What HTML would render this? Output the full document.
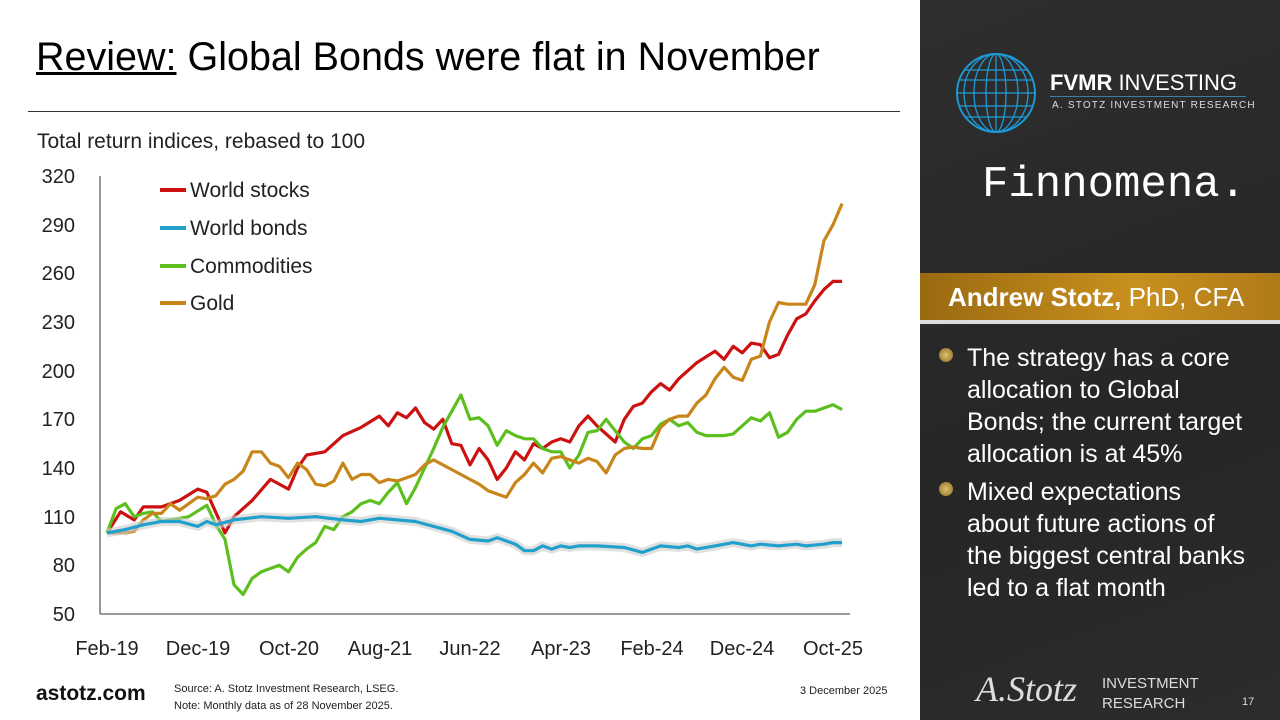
<!DOCTYPE html>
<html><head><meta charset="utf-8"><style>
body{margin:0;width:1280px;height:720px;overflow:hidden;background:#fff;font-family:"Liberation Sans",sans-serif;position:relative}
.rp{position:absolute;left:920px;top:0;width:360px;height:720px;background:linear-gradient(160deg,#2e2e2e,#262626 60%,#2c2c2c)}
</style></head><body>
<div style="position:absolute;left:36px;top:35px;font-size:39.5px;color:#000;white-space:nowrap"><u>Review:</u> Global Bonds were flat in November</div>
<div style="position:absolute;left:28px;top:111px;width:872px;height:1px;background:#333"></div>
<div style="position:absolute;left:37px;top:130px;font-size:21px;color:#222">Total return indices, rebased to 100</div>
<svg width="920" height="720" style="position:absolute;left:0;top:0" id="ch">
<g font-size="20" fill="#222" text-anchor="end" font-family="Liberation Sans">
<text x="75" y="183">320</text><text x="75" y="232">290</text><text x="75" y="280">260</text><text x="75" y="329">230</text><text x="75" y="378">200</text><text x="75" y="426">170</text><text x="75" y="475">140</text><text x="75" y="524">110</text><text x="75" y="572">80</text><text x="75" y="621">50</text>
</g>
<line x1="100" y1="176" x2="100" y2="614" stroke="#333"/>
<line x1="100" y1="614" x2="850" y2="614" stroke="#333"/>
<g font-size="20" fill="#222" text-anchor="middle" font-family="Liberation Sans">
<text x="107" y="655">Feb-19</text><text x="198" y="655">Dec-19</text><text x="289" y="655">Oct-20</text><text x="380" y="655">Aug-21</text><text x="470" y="655">Jun-22</text><text x="561" y="655">Apr-23</text><text x="652" y="655">Feb-24</text><text x="742" y="655">Dec-24</text><text x="833" y="655">Oct-25</text>
</g>
<g font-size="21" fill="#222" font-family="Liberation Sans">
<line x1="160" y1="190" x2="186" y2="190" stroke="#cc1111" stroke-width="4"/><text x="190" y="197">World stocks</text>
<line x1="160" y1="228" x2="186" y2="228" stroke="#22a0cc" stroke-width="4"/><text x="190" y="235">World bonds</text>
<line x1="160" y1="266" x2="186" y2="266" stroke="#5cbf1e" stroke-width="4"/><text x="190" y="273">Commodities</text>
<line x1="160" y1="303" x2="186" y2="303" stroke="#c8851a" stroke-width="4"/><text x="190" y="310">Gold</text>
</g>
<g id="series" fill="none" stroke-width="3.2" stroke-linejoin="round"></g>
</svg>
<div style="position:absolute;left:36px;top:682px;font-size:21px;font-weight:bold;color:#111">astotz.com</div>
<div style="position:absolute;left:174px;top:681px;font-size:11px;color:#222;line-height:17px">Source: A. Stotz Investment Research, LSEG.<br>Note: Monthly data as of 28 November 2025.</div>
<div style="position:absolute;left:800px;top:685px;font-size:11px;color:#222">3 December 2025</div>
<div class="rp">
<svg width="100" height="100" style="position:absolute;left:36px;top:50px"><g fill="none" stroke="#1e9ad6" stroke-width="1.3"><circle cx="40" cy="43" r="39" stroke-width="2"/><ellipse cx="40" cy="43" rx="10" ry="39"/><ellipse cx="40" cy="43" rx="22" ry="39"/><ellipse cx="40" cy="43" rx="32" ry="39"/><line x1="40" y1="4" x2="40" y2="82"/><line x1="3" y1="30" x2="77" y2="30"/><line x1="1" y1="43" x2="79" y2="43"/><line x1="3" y1="56" x2="77" y2="56"/><line x1="8" y1="20" x2="72" y2="20"/><line x1="8" y1="67" x2="72" y2="67"/></g></svg>
<div style="position:absolute;left:130px;top:70px;font-size:22px;color:#fff"><b>FVMR</b> INVESTING</div>
<div style="position:absolute;left:130px;top:96px;width:196px;height:1px;background:#3a7fa5"></div>
<div style="position:absolute;left:132px;top:100px;font-size:10px;letter-spacing:1.2px;color:#ddd">A. STOTZ INVESTMENT RESEARCH</div>
<div style="position:absolute;left:62px;top:160px;font-size:44px;color:#fff;font-family:'Liberation Mono',monospace">Finnomena.</div>
<div style="position:absolute;left:0;top:273px;width:360px;height:47px;background:linear-gradient(90deg,#9a6a10,#c8901e 60%,#b07a18)"></div>
<div style="position:absolute;left:28px;top:282px;font-size:26px;color:#fff"><b>Andrew Stotz,</b> PhD, CFA</div>
<div style="position:absolute;left:0;top:320px;width:360px;height:4px;background:#ddd"></div>
<div style="position:absolute;left:47px;top:342px;width:310px;font-size:25px;line-height:32px;color:#fff;white-space:nowrap">
<div style="position:relative"><span style="position:absolute;left:-28px;top:6px;width:14px;height:14px;border-radius:50%;background:radial-gradient(#e0c070,#8a6a20)"></span>The strategy has a core<br>allocation to Global<br>Bonds; the current target<br>allocation is at 45%</div>
<div style="position:relative;margin-top:6px"><span style="position:absolute;left:-28px;top:6px;width:14px;height:14px;border-radius:50%;background:radial-gradient(#e0c070,#8a6a20)"></span>Mixed expectations<br>about future actions of<br>the biggest central banks<br>led to a flat month</div>
</div>
<div style="position:absolute;left:56px;top:668px;font-size:36px;font-style:italic;color:#ddd;font-family:'Liberation Serif',serif">A.Stotz</div>
<div style="position:absolute;left:182px;top:674px;font-size:15px;color:#ddd;line-height:20px">INVESTMENT<br>RESEARCH</div>
<div style="position:absolute;left:322px;top:696px;font-size:11px;color:#ddd">17</div>
</div>
<script>
const S={
"#cc1111":[0,100,1.5,113,3,108,4,116,6,116,8,120,10,127,11,125,13,100,14,110,16,120,18,133,20,127,21,140,22,148,24,150,26,160,28,165,30,172,31,166,32,174,33,171,34,177,35,168,36,164,37,170,38,155,39,154,40,142,41,152,42,145,43,133,44,140,45,150,46,145,47,155,48,152,49,156,50,158,51,156,52,166,53,172,54,166,55,161,56,156,57,170,58,178,59,180,60,187,61,192,62,188,63,195,64,200,65,205,67,212,68,207,69,215,70,211,71,217,72,216,73,208,74,210,75,222,76,232,77,235,78,243,79,250,80,255,81,255],
"#5cbf1e":[0,100,1,115,2,118,3,110,4,112,5,113,6,107,8,109,9,110,11,117,12,105,13,96,14,68,15,62,16,72,17,76,19,80,20,76,21,85,22,90,23,94,24,104,25,102,26,110,27,113,28,118,29,120,30,118,31,125,32,131,33,118,34,128,35,140,36,152,37,165,38,175,39,185,40,170,41,171,42,166,43,154,44,163,45,160,46,158,47,158,48,152,49,150,50,150,51,140,52,148,53,162,54,163,55,170,56,163,57,156,58,152,59,158,60,160,61,167,62,170,63,166,64,168,65,162,66,160,68,160,69,161,70,166,71,171,72,169,73,174,74,159,75,162,76,170,77,175,78,175,79,177,80,179,81,176],
"#c8851a":[0,100,2,100,3,101,4,108,5,112,6,112,7,118,8,114,9,118,10,122,11,121,12,123,13,130,14,133,15,138,16,150,17,150,18,143,19,141,20,134,21,143,22,139,23,130,24,129,25,132,26,143,27,133,28,136,29,136,30,131,31,133,32,132,33,134,34,136,35,142,36,145,37,142,38,139,39,136,40,133,41,130,42,126,43,124,44,122,45,131,46,136,47,143,48,137,49,146,50,147,51,145,52,143,53,146,54,144,55,137,56,148,57,152,58,153,59,152,60,152,61,165,62,170,63,172,64,172,65,180,66,185,67,195,68,202,69,196,70,194,71,207,72,209,73,230,74,242,75,241,76,241,77,241,78,253,79,280,80,290,81,303],
"#22a0cc":[0,100,2,102,4,105,6,107,8,107,10,104,11,107,12,105,14,108,17,110,20,109,23,110,26,108,28,107,30,109,32,108,34,107,36,104,38,101,40,96,42,95,43,97,45,93,46,89,47,89,48,92,49,90,50,92,51,91,52,92,54,92,57,91,59,88,61,92,63,91,64,92,65,90,67,92,69,94,71,92,72,93,74,92,76,93,77,92,79,93,80,94,81,94]};
let g=document.getElementById('series'),h='';
for(const c in S){const a=S[c];let p=[];for(let i=0;i<a.length;i+=2)p.push((107+a[i]*9.075).toFixed(1)+','+(614-(a[i+1]-50)*1.6222).toFixed(1));
if(c=="#22a0cc")h+=`<polyline points="${p.join(' ')}" stroke="#ccc" stroke-width="9" opacity="0.6"/>`;
h+=`<polyline points="${p.join(' ')}" stroke="${c}"/>`;}
g.innerHTML=h;
</script>
</body></html>
